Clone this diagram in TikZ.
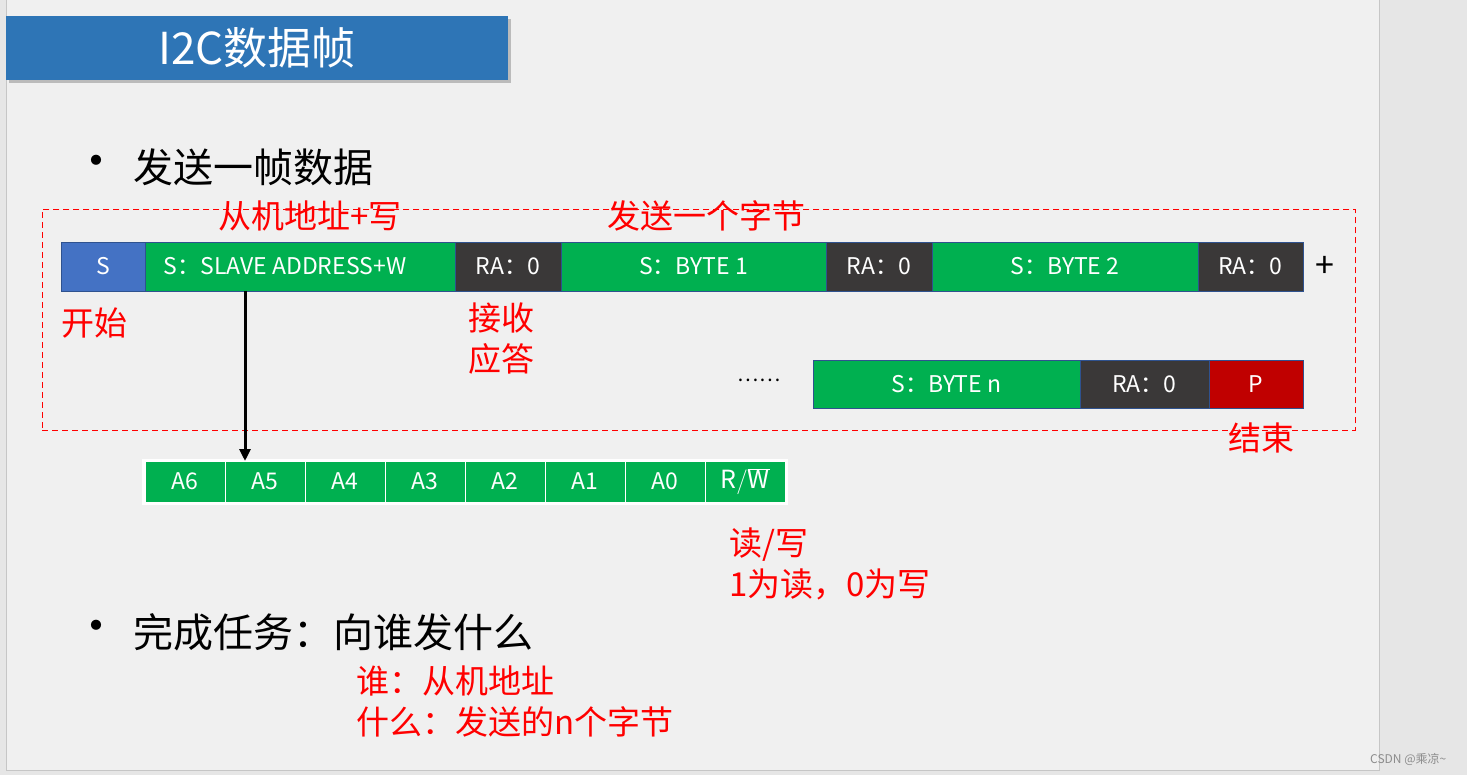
\documentclass[tikz,border=0pt]{standalone}
\usepackage{fontspec}
\setmainfont{Noto Sans CJK SC}
\usetikzlibrary{arrows.meta,shadows}
\definecolor{bg}{HTML}{F0F0F0}
\definecolor{side}{HTML}{E6E6E6}
\definecolor{edge}{HTML}{C6C6C6}
\definecolor{titleblue}{HTML}{2E75B6}
\definecolor{sblue}{HTML}{4472C4}
\definecolor{cgreen}{HTML}{00B050}
\definecolor{cdark}{HTML}{3A3838}
\definecolor{cred}{HTML}{C00000}
\definecolor{cborder}{HTML}{2F528F}
\definecolor{lab}{HTML}{FF0000}
\tikzset{
  cell/.style={draw=cborder, line width=0.8pt, inner sep=0pt, outer sep=0pt, anchor=north west,
    minimum height=49pt, text=white, font=\fontsize{23}{26}\selectfont},
  bitcell/.style={draw=white, line width=1pt, fill=cgreen, inner sep=0pt, outer sep=0pt, anchor=north west,
    minimum width=80pt, minimum height=41pt, text=white, font=\fontsize{23}{26}\selectfont},
  redlab/.style={text=lab, inner sep=0pt, anchor=west, font=\fontsize{33}{41}\selectfont, align=left},
  bigtext/.style={text=black, inner sep=0pt, anchor=west, font=\fontsize{40}{46}\selectfont},
}
\begin{document}
\begin{tikzpicture}[x=1pt,y=-1pt]
\useasboundingbox (0,0) rectangle (1467,775);
% background
\fill[side] (0,0) rectangle (1467,775);
\fill[bg] (6,0) rectangle (1379,770);
\draw[edge, line width=1pt] (6,0) -- (6,770) -- (1379,770) -- (1379,0);
% title
\node[fill=titleblue, minimum width=502pt, minimum height=64pt, inner sep=0pt, anchor=north west,
  drop shadow={shadow xshift=3pt, shadow yshift=-3pt, fill=black!40, opacity=0.6},
  text=white, font=\fontsize{44}{48}\selectfont] (title) at (6,16) {I2C数据帧};
% bullet 1
\node[bigtext, font=\fontsize{48}{50}\selectfont] (b1) at (72,167) {•};
\node[bigtext] (t1) at (133,167) {发送一帧数据};
% dashed frame
\node[draw=lab, dashed, dash pattern=on 6pt off 4pt, line width=0.8pt, minimum width=1313pt, minimum height=221pt,
  inner sep=0pt, anchor=north west] (frame) at (42,209) {};
% row 1
\node[cell, fill=sblue, minimum width=84pt] (s) at (61,242) {S};
\node[cell, fill=cgreen, minimum width=310pt] (addr) at (145,242) {S：SLAVE ADDRESS+W\hspace*{30pt}};
\node[cell, fill=cdark, minimum width=106pt] (ra1) at (455,242) {RA：0};
\node[cell, fill=cgreen, minimum width=265pt] (b1c) at (561,242) {S：BYTE 1};
\node[cell, fill=cdark, minimum width=106pt] (ra2) at (826,242) {RA：0};
\node[cell, fill=cgreen, minimum width=266pt] (b2c) at (932,242) {S：BYTE 2};
\node[cell, fill=cdark, minimum width=105pt] (ra3) at (1198,242) {RA：0};
\node[inner sep=0pt, font=\fontsize{34}{36}\selectfont] (plus) at (1325,267) {+};
% row 2
\node[inner sep=0pt, font=\fontsize{20}{24}\selectfont] (dots) at (759,380) {……};
\node[cell, fill=cgreen, minimum width=267pt, minimum height=48pt] (bn) at (813,360) {S：BYTE n};
\node[cell, fill=cdark, minimum width=129pt, minimum height=48pt] (ra4) at (1080,360) {RA：0};
\node[cell, fill=cred, minimum width=94pt, minimum height=48pt] (p) at (1209,360) {P};
% red labels
\node[redlab] (l1) at (218,216) {从机地址+写};
\node[redlab] (l2) at (607,216) {发送一个字节};
\node[redlab] (l3) at (61,323) {开始};
\node[redlab, anchor=north west] (l4) at (468,303) {接收\\应答};
\node[redlab] (l5) at (1228,438) {结束};
\node[redlab, anchor=north west] (l6) at (729,528) {读/写\\1为读，0为写};
% bit row
\fill[white] (142,459) rectangle (788,505);
\node[bitcell] (a6) at (145,461) {A6};
\node[bitcell] (a5) at (225,461) {A5};
\node[bitcell] (a4) at (305,461) {A4};
\node[bitcell] (a3) at (385,461) {A3};
\node[bitcell] (a2) at (465,461) {A2};
\node[bitcell] (a1) at (545,461) {A1};
\node[bitcell] (a0) at (625,461) {A0};
\node[bitcell, font=\fontsize{25}{28}\selectfont] (rw) at (705,461) {$\mathrm{R}/\overline{\mathrm{W}}$};
% arrow
\coordinate (arrs) at (245,291);
\draw[line width=3pt, -{Triangle[width=11pt,length=12pt]}] (arrs) -- (arrs |- a5.north);
% bullet 2
\node[bigtext, font=\fontsize{48}{50}\selectfont] (b2) at (72,632) {•};
\node[bigtext] (t2) at (133,632) {完成任务：向谁发什么};
\node[redlab, anchor=north west] (l7) at (356,666) {谁：从机地址\\什么：发送的n个字节};
% watermark
\node[inner sep=0pt, anchor=west, text=black!45, font=\fontsize{12}{14}\selectfont] (wm) at (1370,759) {CSDN @乘凉\textasciitilde};
\end{tikzpicture}
\end{document}
